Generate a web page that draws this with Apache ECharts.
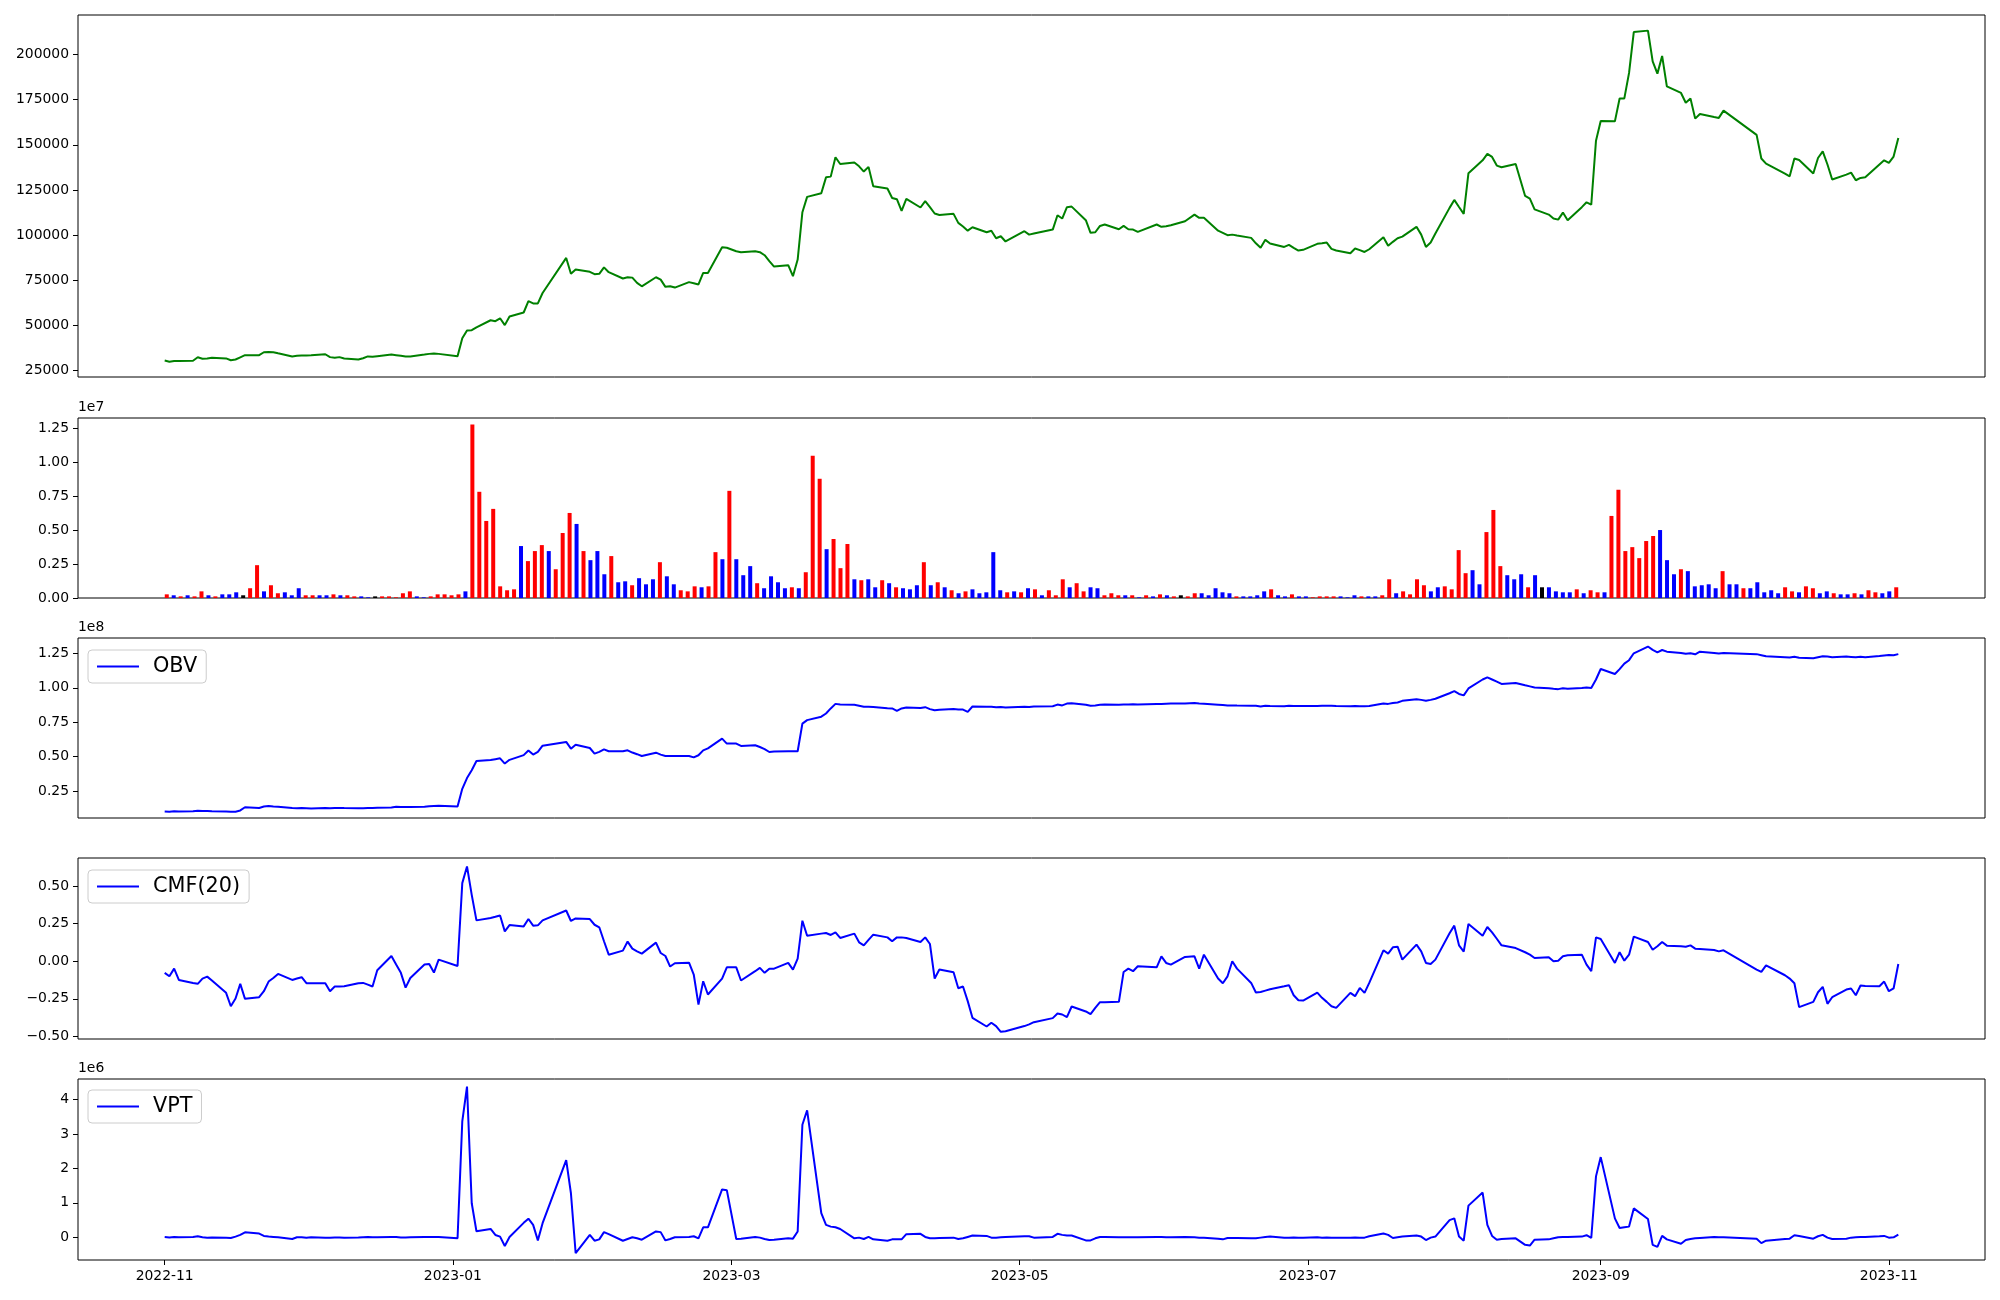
<!DOCTYPE html>
<html>
<head>
<meta charset="utf-8">
<script src="https://cdn.jsdelivr.net/npm/echarts@6/dist/echarts.min.js"></script>
<style>
html,body{margin:0;padding:0;background:#fff;}
#chart{width:2000px;height:1300px;}
</style>
</head>
<body>
<div id="chart"></div>
<script>
// ---------------- DATA ----------------
const firstDay = '2022-11-01';
const lastDay = '2023-11-03';
const marketHolidays = ['2022-12-30','2023-01-23','2023-01-24','2023-03-01','2023-05-01','2023-05-05',
  '2023-05-29','2023-06-06','2023-08-15','2023-09-28','2023-09-29','2023-10-02','2023-10-03','2023-10-09'];

const closePrice = [
30600,29900,30300,30400,30500,32400,31600,31700,32100,31800,
30800,31200,32400,33600,33600,35200,35400,35200,34600,32900,
33200,33400,33400,33500,34100,32500,32100,32500,31700,31200,
31900,32900,32700,33000,33900,33600,33200,32800,32900,33900,
34300,34500,34300,33000,42900,47200,47400,49000,52900,52400,
54000,50200,55000,57200,63500,62200,62200,68000,87400,78600,
81000,79700,78400,78600,82200,79500,76000,76700,76500,73600,
71700,76700,75400,71400,71700,71000,74000,73400,72700,79100,
79100,93300,93000,91100,90600,91100,90600,88900,85600,82600,
83400,77300,86500,112700,121200,123200,132000,132400,143100,139400,
140200,138100,135200,137800,127100,125800,120600,119900,113400,120100,
115300,118800,115500,112000,111200,111800,106800,104800,102500,104400,
101600,102400,98300,99400,96500,102200,100300,100900,103100,111000,
109200,115500,115800,108300,101300,101600,105100,105900,103300,105100,
103300,103100,101800,105900,104600,104900,105500,107700,111400,109600,
109600,102500,101300,100000,100300,99800,98500,95500,93000,97400,
95400,93500,94600,93000,91500,91900,95200,95500,95900,92400,
91500,90000,92600,91700,90700,92200,98900,94100,96300,98300,
99200,104600,100300,93500,95900,100900,115100,119500,115600,111800,
134300,141400,145000,143300,138500,137600,139400,121700,120200,114300,
111400,109200,108600,112500,108300,115500,118200,116900,152300,163200,
163000,175600,175700,189800,212400,213200,196200,189400,199200,182400,
178700,173300,175600,164500,167100,165400,164900,168900,155500,142400,
139600,134100,132600,142400,141600,134100,142700,146400,139100,130800,
133500,134600,130400,131700,132000,139100,141400,140000,143500,153800];

// volume in units of 1e7 shares
const volumeE7 = [
.027,.020,.012,.020,.012,.049,.020,.012,.027,.027,
.042,.020,.072,.242,.049,.094,.035,.042,.020,.072,
.020,.020,.020,.020,.027,.020,.020,.012,.012,.005,
.012,.012,.012,.005,.035,.049,.012,.005,.012,.027,
.027,.020,.027,.049,1.279,.783,.568,.657,.086,.057,
.064,.383,.272,.346,.390,.346,.212,.479,.627,.546,
.346,.279,.346,.175,.309,.116,.123,.094,.146,.101,
.138,.264,.160,.101,.057,.049,.086,.079,.086,.338,
.286,.790,.286,.168,.235,.109,.072,.160,.116,.072,
.079,.072,.190,1.049,.879,.360,.435,.220,.398,.138,
.131,.138,.079,.131,.109,.079,.072,.064,.094,.264,
.094,.116,.079,.057,.035,.049,.064,.035,.042,.338,
.057,.042,.049,.042,.072,.064,.020,.057,.020,.138,
.079,.109,.049,.079,.072,.020,.035,.020,.020,.020,
.005,.020,.012,.027,.020,.012,.020,.012,.035,.035,
.020,.072,.042,.035,.012,.012,.012,.020,.049,.064,
.020,.012,.027,.012,.012,.005,.012,.012,.012,.012,
.005,.020,.012,.012,.012,.020,.138,.035,.049,.027,
.138,.094,.049,.079,.086,.064,.353,.183,.205,.101,
.486,.649,.235,.168,.138,.175,.079,.168,.079,.079,
.049,.042,.042,.064,.035,.057,.042,.042,.605,.798,
.346,.375,.294,.420,.457,.501,.279,.175,.212,.198,
.086,.094,.101,.072,.198,.101,.101,.072,.072,.116,
.042,.057,.035,.079,.049,.042,.086,.072,.035,.049,
.035,.027,.027,.035,.027,.057,.042,.035,.049,.079];

// bar colour per day: R = up (red), B = down (blue), K = unchanged (black)
const barColorCodes =
 'RBRBRRBRBB' + 'BKRRBRRBBB' + 'RRBBRBRRBB' + 'KRRRRRBBRR' + 'RRRBRRRRRR' +
 'RBRRRBRRRB' + 'RBBBRBBRBB' + 'BRBBRRRBRR' + 'BRBBBRBBBB' + 'RBRRRBRRRB' +
 'RBBRBRBBBR' + 'BRBRBRBBBB' + 'BRBRBRBRRR' + 'BRRBBRRRBR' + 'BRBRBRKRRB' +
 'BBBBRBBBBR' + 'BBRBBRRRRB' + 'BBRBBRRBRR' + 'RRBBRRRRBB' + 'RRRBBBRBKB' +
 'BBBRBRRBRR' + 'RRRRRBBBRB' + 'BBBBRBBRBB' + 'BBBRRBRRBB' + 'RBBRBRRBBR';

// OBV in units of 1e8
const obvE8 = [
0.102,0.100,0.104,0.102,0.104,0.107,0.105,0.106,0.104,0.102,
0.101,0.101,0.110,0.133,0.128,0.138,0.142,0.138,0.136,0.128,
0.126,0.128,0.126,0.124,0.127,0.125,0.127,0.128,0.127,0.126,
0.126,0.127,0.128,0.129,0.132,0.137,0.135,0.134,0.135,0.137,
0.140,0.142,0.144,0.139,0.267,0.345,0.402,0.468,0.476,0.482,
0.488,0.450,0.477,0.511,0.545,0.515,0.535,0.580,0.607,0.558,
0.587,0.563,0.522,0.535,0.553,0.539,0.539,0.546,0.530,0.518,
0.505,0.529,0.515,0.505,0.505,0.505,0.505,0.495,0.510,0.546,
0.560,0.631,0.595,0.595,0.578,0.583,0.570,0.555,0.534,0.537,
0.539,0.539,0.539,0.740,0.765,0.790,0.813,0.850,0.883,0.878,
0.876,0.870,0.862,0.862,0.860,0.852,0.850,0.833,0.850,0.857,
0.853,0.859,0.845,0.837,0.840,0.845,0.843,0.842,0.825,0.864,
0.862,0.862,0.858,0.860,0.857,0.862,0.860,0.864,0.866,0.878,
0.872,0.885,0.888,0.877,0.870,0.872,0.876,0.879,0.877,0.879,
0.878,0.880,0.879,0.883,0.882,0.884,0.886,0.885,0.889,0.886,
0.884,0.877,0.874,0.871,0.872,0.871,0.870,0.869,0.864,0.870,
0.868,0.866,0.869,0.868,0.867,0.867,0.868,0.869,0.870,0.869,
0.868,0.866,0.867,0.866,0.865,0.867,0.886,0.883,0.889,0.893,
0.905,0.917,0.912,0.905,0.912,0.920,0.960,0.975,0.955,0.945,
0.995,1.060,1.075,1.060,1.045,1.028,1.035,1.018,1.010,1.002,
0.997,0.993,0.990,0.996,0.993,0.998,1.002,0.998,1.060,1.136,
1.100,1.135,1.175,1.200,1.250,1.299,1.275,1.257,1.274,1.262,
1.252,1.246,1.250,1.243,1.262,1.252,1.248,1.252,1.244,1.236,
1.228,1.222,1.219,1.225,1.218,1.214,1.222,1.229,1.226,1.221,
1.226,1.224,1.221,1.225,1.222,1.230,1.234,1.238,1.236,1.244];

const cmf20 = [
-0.077,-0.100,-0.049,-0.124,-0.144,-0.150,-0.115,-0.102,-0.128,-0.210,
-0.299,-0.248,-0.150,-0.250,-0.239,-0.199,-0.135,-0.111,-0.084,-0.124,
-0.115,-0.106,-0.146,-0.146,-0.146,-0.199,-0.168,-0.168,-0.166,-0.146,
-0.144,-0.155,-0.168,-0.060,0.035,-0.022,-0.077,-0.175,-0.111,-0.022,
-0.018,-0.075,0.011,-0.031,0.520,0.631,0.442,0.272,0.288,0.296,
0.305,0.199,0.241,0.232,0.281,0.237,0.239,0.272,0.338,0.268,
0.285,0.281,0.243,0.226,0.133,0.044,0.071,0.131,0.084,0.066,
0.051,0.124,0.055,0.035,-0.035,-0.013,-0.009,-0.088,-0.288,-0.133,
-0.221,-0.115,-0.040,-0.040,-0.128,-0.066,-0.044,-0.077,-0.049,-0.049,
-0.011,-0.055,0.018,0.270,0.170,0.184,0.188,0.175,0.192,0.155,
0.184,0.126,0.106,0.142,0.177,0.159,0.133,0.159,0.159,0.155,
0.128,0.159,0.115,-0.115,-0.055,-0.073,-0.179,-0.168,-0.265,-0.376,
-0.434,-0.409,-0.431,-0.469,-0.465,-0.431,-0.420,-0.405,-0.378,-0.347,
-0.354,-0.372,-0.301,-0.334,-0.352,-0.310,-0.272,-0.272,-0.270,-0.071,
-0.049,-0.066,-0.033,-0.040,0.033,-0.011,-0.022,0.029,0.033,-0.049,
0.044,-0.115,-0.146,-0.100,0.000,-0.049,-0.144,-0.208,-0.204,-0.195,
-0.186,-0.166,-0.159,-0.226,-0.259,-0.261,-0.208,-0.243,-0.270,-0.299,
-0.310,-0.210,-0.232,-0.177,-0.210,-0.144,0.073,0.051,0.093,0.097,
0.011,0.111,0.066,-0.011,-0.018,0.011,0.186,0.237,0.106,0.064,
0.248,0.170,0.228,0.192,0.150,0.106,0.088,0.060,0.044,0.022,
0.027,0.000,0.004,0.033,0.040,0.044,-0.022,-0.066,0.159,0.148,
-0.011,0.060,0.004,0.044,0.164,0.128,0.077,0.100,0.128,0.104,
0.100,0.097,0.106,0.084,0.082,0.075,0.066,0.073,-0.055,-0.071,
-0.027,-0.093,-0.115,-0.146,-0.305,-0.270,-0.206,-0.170,-0.283,-0.239,
-0.188,-0.181,-0.226,-0.161,-0.164,-0.166,-0.135,-0.199,-0.181,-0.018];

// VPT in units of 1e6
const vptE6 = [
0.010,-0.005,0.005,0.000,0.010,0.030,0.000,-0.010,-0.005,-0.010,
-0.020,0.020,0.070,0.146,0.107,0.040,0.020,0.010,0.000,-0.050,
0.000,0.000,-0.010,0.000,-0.010,-0.010,-0.005,-0.005,-0.010,-0.005,
0.000,0.005,0.000,0.000,0.010,0.010,-0.005,-0.005,0.000,0.010,
0.010,0.005,0.005,-0.030,3.370,4.380,0.990,0.175,0.243,0.068,
0.020,-0.252,0.010,0.420,0.540,0.360,-0.090,0.410,2.240,1.280,
-0.460,0.070,-0.100,-0.060,0.150,0.090,-0.100,-0.050,0.000,-0.030,
-0.070,0.170,0.150,-0.090,-0.050,0.000,0.010,0.030,-0.030,0.290,
0.290,1.390,1.370,-0.050,-0.040,0.010,-0.010,-0.050,-0.080,-0.070,
-0.030,-0.040,0.170,3.270,3.690,0.700,0.360,0.310,0.290,0.240,
-0.030,-0.010,-0.050,0.010,-0.060,-0.100,-0.060,-0.060,-0.060,0.090,
0.100,0.010,-0.030,-0.030,-0.020,-0.010,-0.050,-0.030,0.010,0.050,
0.040,-0.010,-0.010,0.000,0.010,0.030,0.030,-0.010,0.010,0.100,
0.070,0.050,0.050,-0.090,-0.090,-0.030,0.010,0.010,0.000,0.000,
0.000,0.000,0.000,0.010,0.010,0.000,0.000,0.010,0.000,-0.010,
-0.010,-0.040,-0.060,-0.020,-0.020,-0.020,-0.030,-0.030,-0.010,0.010,
0.020,-0.010,-0.010,-0.005,-0.010,-0.010,0.000,-0.010,-0.005,-0.010,
-0.010,-0.010,-0.005,-0.010,-0.010,0.030,0.110,0.070,-0.020,0.000,
0.020,0.050,0.020,-0.080,-0.010,0.020,0.500,0.550,0.020,-0.100,
0.920,1.300,0.360,0.040,-0.070,-0.050,-0.030,-0.220,-0.240,-0.070,
-0.060,-0.030,0.000,0.010,0.010,0.020,0.060,-0.020,1.770,2.330,
0.550,0.270,0.290,0.310,0.840,0.530,-0.220,-0.280,0.040,-0.060,
-0.190,-0.080,-0.050,-0.030,-0.020,0.010,0.000,0.000,-0.040,-0.170,
-0.100,-0.050,-0.040,0.060,0.040,-0.040,0.030,0.070,-0.010,-0.050,
-0.040,-0.010,0.000,0.010,0.010,0.030,0.040,-0.010,0.000,0.080];

// tick values
const priceTicks = [25000,50000,75000,100000,125000,150000,175000,200000];
const volumeTicks = [0,0.25,0.5,0.75,1.0,1.25];
const obvTicks = [0.25,0.5,0.75,1.0,1.25];
const cmfTicks = [-0.5,-0.25,0,0.25,0.5];
const vptTicks = [0,1,2,3,4];
const dateTickLabels = ['2022-11','2023-01','2023-03','2023-05','2023-07','2023-09','2023-11'];

// ---------------- BUILD ----------------
function utc(s){const p=s.split('-').map(Number);return Date.UTC(p[0],p[1]-1,p[2]||1);}
const DAY = 86400000;
const holidaySet = new Set(marketHolidays);
function fmt(t){const d=new Date(t);return d.getUTCFullYear()+'-'+String(d.getUTCMonth()+1).padStart(2,'0')+'-'+String(d.getUTCDate()).padStart(2,'0');}
const dates = [];
for(let t=utc(firstDay); t<=utc(lastDay); t+=DAY){
  const wd = new Date(t).getUTCDay();
  if(wd===0||wd===6) continue;
  if(holidaySet.has(fmt(t))) continue;
  dates.push(t);
}
const N = dates.length;
const span = dates[N-1]-dates[0];
const xMin = dates[0]-0.05*span, xMax = dates[N-1]+0.05*span;
const dateTicks = dateTickLabels.map(utc);
const minus = v => String(v).replace('-', '\u2212');

const colorMap = {R:'#ff0000', B:'#0000ff', K:'#000000'};
const barData = volumeE7.map((v,i)=>({value:[i,v], itemStyle:{color:colorMap[barColorCodes[i]]}}));
const pair = arr => arr.map((v,i)=>[dates[i], v]);

const barHalf = 0.3;
const vLo = -barHalf, vHi = (N-1)+barHalf, vPad = 0.05*(vHi-vLo);

const FONT = 'DejaVu Sans';
const labelStyle = {color:'#000', fontSize:13.9, fontFamily:FONT};

const L = 78, R = 15;
const grids = [
  {left:L, right:R, top:15, height:362},
  {left:L, right:R, top:418, height:180},
  {left:L, right:R, top:638, height:180},
  {left:L, right:R, top:858, height:181},
  {left:L, right:R, top:1079, height:181}
].map(g=>Object.assign(g,{show:true, borderColor:'#000', borderWidth:1, backgroundColor:'transparent', containLabel:false}));

function timeX(gi, showLabels){
  return {
    type:'value', gridIndex:gi, min:xMin, max:xMax, position:'bottom',
    axisLine:{show:false, onZero:false}, splitLine:{show:false},
    axisTick:{show:showLabels, length:5, lineStyle:{color:'#000'}, customValues:dateTicks},
    axisLabel:{show:showLabels, customValues:dateTicks, margin:9, ...labelStyle,
      formatter:v=>{const d=new Date(v);return d.getUTCFullYear()+'-'+String(d.getUTCMonth()+1).padStart(2,'0');}}
  };
}
function valY(gi, min, max, ticks, formatter){
  return {
    type:'value', gridIndex:gi, min:min, max:max, position:'left',
    axisLine:{show:false, onZero:false}, splitLine:{show:false},
    axisTick:{show:true, length:5, lineStyle:{color:'#000'}, customValues:ticks},
    axisLabel:{customValues:ticks, margin:9, ...labelStyle, formatter:formatter}
  };
}

const xAxes = [
  timeX(0,false),
  {type:'value', gridIndex:1, min:vLo-vPad, max:vHi+vPad, position:'bottom', axisLine:{show:false, onZero:false}, axisTick:{show:false}, axisLabel:{show:false}, splitLine:{show:false}},
  timeX(2,false),
  timeX(3,false),
  timeX(4,true)
];
const yAxes = [
  valY(0, 21500, 221850, priceTicks, v=>String(v)),
  valY(1, 0, 1.327, volumeTicks, v=>v.toFixed(2)),
  valY(2, 0.055, 1.361, obvTicks, v=>v.toFixed(2)),
  valY(3, -0.517, 0.687, cmfTicks, v=>minus(v.toFixed(2))),
  valY(4, -0.66, 4.6, vptTicks, v=>String(v))
];

function legendBox(name, top){
  return {
    data:[name], left:88, top:top, orient:'horizontal',
    icon:'rect', itemWidth:42, itemHeight:2.2,
    backgroundColor:'rgba(255,255,255,0.8)', borderColor:'#cccccc', borderWidth:1, borderRadius:4,
    padding:[4,9,4,9],
    textStyle:{fontSize:20.8, fontFamily:FONT, color:'#000', padding:[0,0,0,9], lineHeight:25}
  };
}

const lineBase = {type:'line', showSymbol:false, symbol:'none', animation:false, lineStyle:{width:2}};

const option = {
  animation:false,
  backgroundColor:'#fff',
  grid: grids,
  xAxis: xAxes,
  yAxis: yAxes,
  legend: [legendBox('OBV', 650), legendBox('CMF(20)', 870), legendBox('VPT', 1090)],
  graphic: [
    {type:'text', left:78, top:400, style:{text:'1e7', fill:'#000', font:'13.9px "DejaVu Sans"'}},
    {type:'text', left:78, top:620, style:{text:'1e8', fill:'#000', font:'13.9px "DejaVu Sans"'}},
    {type:'text', left:78, top:1061, style:{text:'1e6', fill:'#000', font:'13.9px "DejaVu Sans"'}}
  ],
  series: [
    Object.assign({}, lineBase, {name:'Close', xAxisIndex:0, yAxisIndex:0, data:pair(closePrice), lineStyle:{width:2, color:'#008000'}, itemStyle:{color:'#008000'}}),
    {name:'Volume', type:'bar', xAxisIndex:1, yAxisIndex:1, data:barData, barWidth:4, animation:false},
    Object.assign({}, lineBase, {name:'OBV', xAxisIndex:2, yAxisIndex:2, data:pair(obvE8), lineStyle:{width:2, color:'#0000ff'}, itemStyle:{color:'#0000ff'}}),
    Object.assign({}, lineBase, {name:'CMF(20)', xAxisIndex:3, yAxisIndex:3, data:pair(cmf20), lineStyle:{width:2, color:'#0000ff'}, itemStyle:{color:'#0000ff'}}),
    Object.assign({}, lineBase, {name:'VPT', xAxisIndex:4, yAxisIndex:4, data:pair(vptE6), lineStyle:{width:2, color:'#0000ff'}, itemStyle:{color:'#0000ff'}})
  ]
};

const chart = echarts.init(document.getElementById('chart'), null, {renderer:'canvas'});
chart.setOption(option);
</script>
</body>
</html>
